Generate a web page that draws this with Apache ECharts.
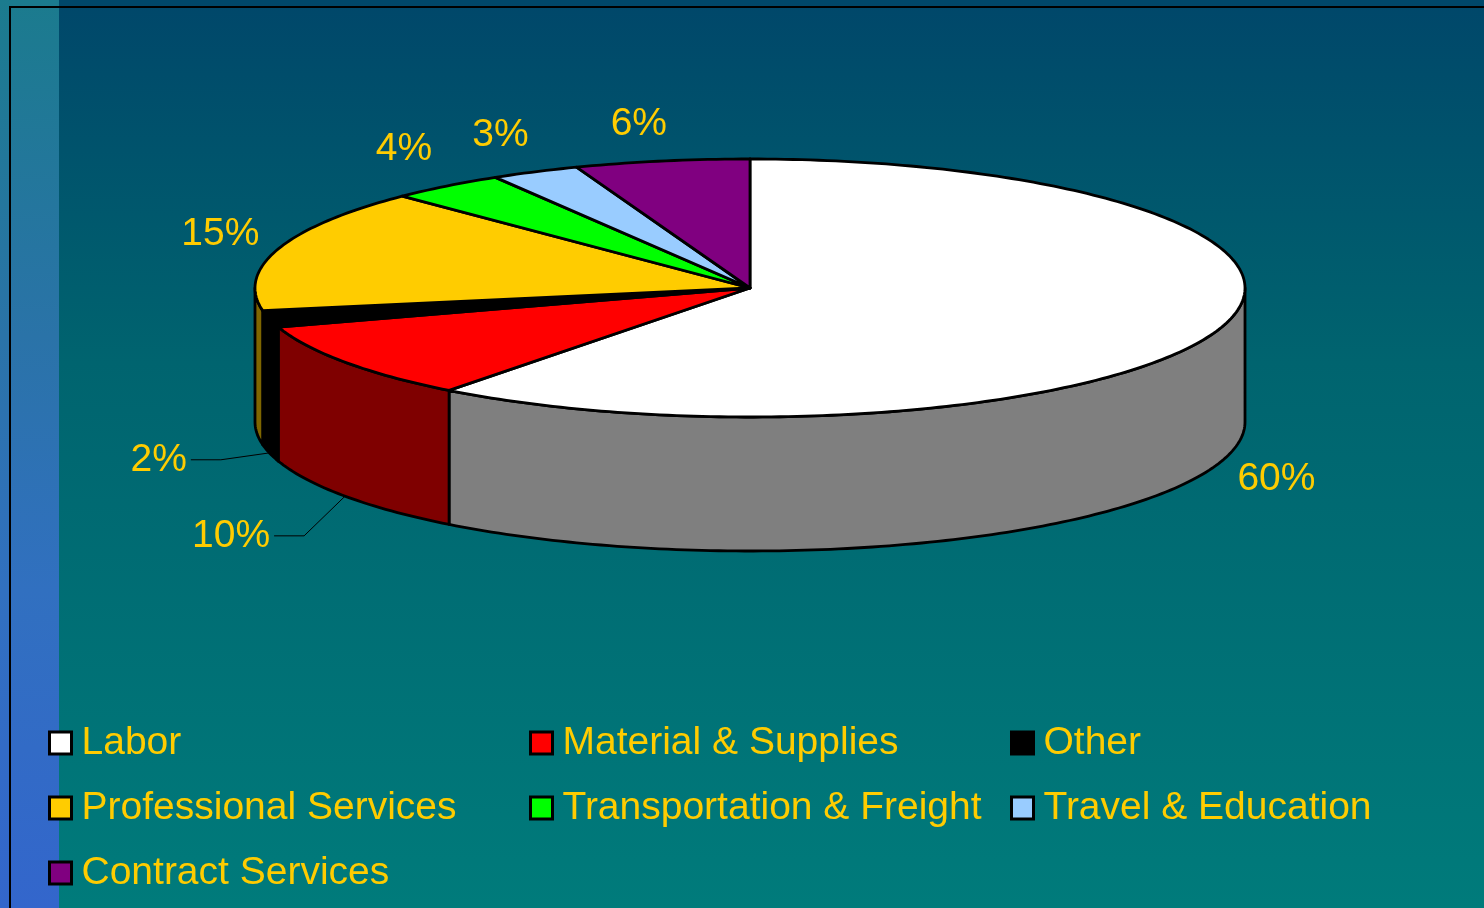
<!DOCTYPE html>
<html>
<head>
<meta charset="utf-8">
<title>Expense breakdown</title>
<script src="https://cdn.jsdelivr.net/npm/echarts@6/dist/echarts.min.js"></script>
<style>
  html, body { margin: 0; padding: 0; }
  #chart { width: 1484px; height: 908px; }
</style>
</head>
<body>
<div id="chart"></div>
<script>
const categories = ['Labor', 'Material & Supplies', 'Other', 'Professional Services',
  'Transportation & Freight', 'Travel & Education', 'Contract Services']
const values = [60.4, 9.7, 2.1, 15.4, 3.8, 2.9, 5.7]
const colors = ['#FFFFFF', '#FF0000', '#000000', '#FFCC00', '#00FF00', '#99CCFF', '#800080']

const total = values.reduce((a, b) => a + b, 0)
const cum = [0]
values.forEach((v, i) => cum.push(cum[i] + v))

// pie geometry (tilted ellipse + wall depth)
const cx = 750, cy = 288, rx = 495, ry = 129, depth = 134
const labelColor = '#FFCC00'
const font = '"Liberation Sans", Arial, sans-serif'

function darken(hex) {
  const n = parseInt(hex.slice(1), 16)
  const r = (n >> 16) >> 1, g = ((n >> 8) & 255) >> 1, b = (n & 255) >> 1
  return 'rgb(' + r + ',' + g + ',' + b + ')'
}

function pt(t, dy) {
  return [cx + rx * Math.sin(t), cy + dy - ry * Math.cos(t)]
}

function arc(a, b, dy) {
  const n = Math.max(2, Math.ceil(Math.abs(b - a) / (Math.PI / 180)))
  const pts = []
  for (let k = 0; k <= n; k++) pts.push(pt(a + (b - a) * k / n, dy))
  return pts
}

function renderSlice(params) {
  const i = params.seriesIndex
  const a = cum[i] / total * Math.PI * 2
  const b = cum[i + 1] / total * Math.PI * 2
  const children = []
  const stroke = { stroke: '#000', lineWidth: 2.8, lineJoin: 'round' }

  // visible front wall
  const wa = Math.max(a, Math.PI / 2), wb = Math.min(b, Math.PI * 1.5)
  if (wa < wb) {
    children.push({
      type: 'polygon', z2: 1,
      shape: { points: arc(wa, wb, 0).concat(arc(wb, wa, depth)) },
      style: Object.assign({ fill: darken(colors[i]) }, stroke)
    })
  }
  // top face
  children.push({
    type: 'polygon', z2: 2,
    shape: { points: [[cx, cy]].concat(arc(a, b, 0)) },
    style: Object.assign({ fill: colors[i] }, stroke)
  })

  // percent label
  const m = (a + b) / 2
  const s = Math.sin(m), c = Math.cos(m)
  const front = c < 0
  const anchor = pt(m, front ? depth : 0)
  const txt = Math.round(values[i] / total * 100) + '%'
  const small = front && s < 0 && values[i] / total < 0.12
  if (small) {
    const elbow = [anchor[0] + s * 50, anchor[1] + c * c * 120]
    const end = [elbow[0] - 30, elbow[1]]
    children.push({
      type: 'polyline', z2: 3,
      shape: { points: [anchor, elbow, end] },
      style: { stroke: '#000', lineWidth: 1, fill: null }
    })
    children.push({
      type: 'text', z2: 3,
      style: { text: txt, x: end[0] - 4, y: end[1], fill: labelColor, font: '39px ' + font,
        align: 'right', verticalAlign: 'middle' }
    })
  } else {
    const dx = s * 45 + Math.sign(s) * 15
    const dy = Math.max(-37, Math.min(40, -c * 50))
    children.push({
      type: 'text', z2: 3,
      style: { text: txt, x: anchor[0] + dx, y: anchor[1] + dy, fill: labelColor,
        font: '39px ' + font, align: 'center', verticalAlign: 'middle' }
    })
  }
  return { type: 'group', children: children }
}

const chart = echarts.init(document.getElementById('chart'))
chart.setOption({
  backgroundColor: {
    type: 'linear', x: 0, y: 0, x2: 0, y2: 1,
    colorStops: [
      { offset: 0, color: '#00476A' },
      { offset: 0.4, color: '#00646F' },
      { offset: 1, color: '#007B7B' }
    ]
  },
  animation: false,
  graphic: [
    {
      type: 'rect', z: -10, silent: true,
      shape: { x: 0, y: 0, width: 59, height: 908 },
      style: {
        fill: {
          type: 'linear', x: 0, y: 0, x2: 0, y2: 1,
          colorStops: [
            { offset: 0, color: '#1B7B8E' },
            { offset: 0.37, color: '#2A73A8' },
            { offset: 0.65, color: '#3170C0' },
            { offset: 1, color: '#3366CC' }
          ]
        }
      }
    },
    {
      type: 'polyline', z: -5, silent: true,
      shape: { points: [[10, 908], [10, 7], [1484, 7]] },
      style: { stroke: '#000', lineWidth: 2, fill: null }
    }
  ],
  legend: [0, 1, 2].map(col => ({
    orient: 'vertical',
    left: [48, 529, 1010][col],
    top: 723,
    padding: 0,
    data: categories.filter((_, i) => i % 3 === col),
    icon: 'rect',
    itemWidth: 22,
    itemHeight: 22,
    itemGap: 25,
    selectedMode: false,
    itemStyle: { borderColor: '#000', borderWidth: 3 },
    textStyle: { color: labelColor, fontSize: 39, fontFamily: font, lineHeight: 40,
      padding: [0, 0, 0, 5] }
  })),
  series: categories.map((name, i) => ({
    name: name,
    type: 'custom',
    coordinateSystem: 'none',
    silent: true,
    itemStyle: { color: colors[i] },
    renderItem: renderSlice,
    data: [[values[i]]]
  }))
})
</script>
</body>
</html>
